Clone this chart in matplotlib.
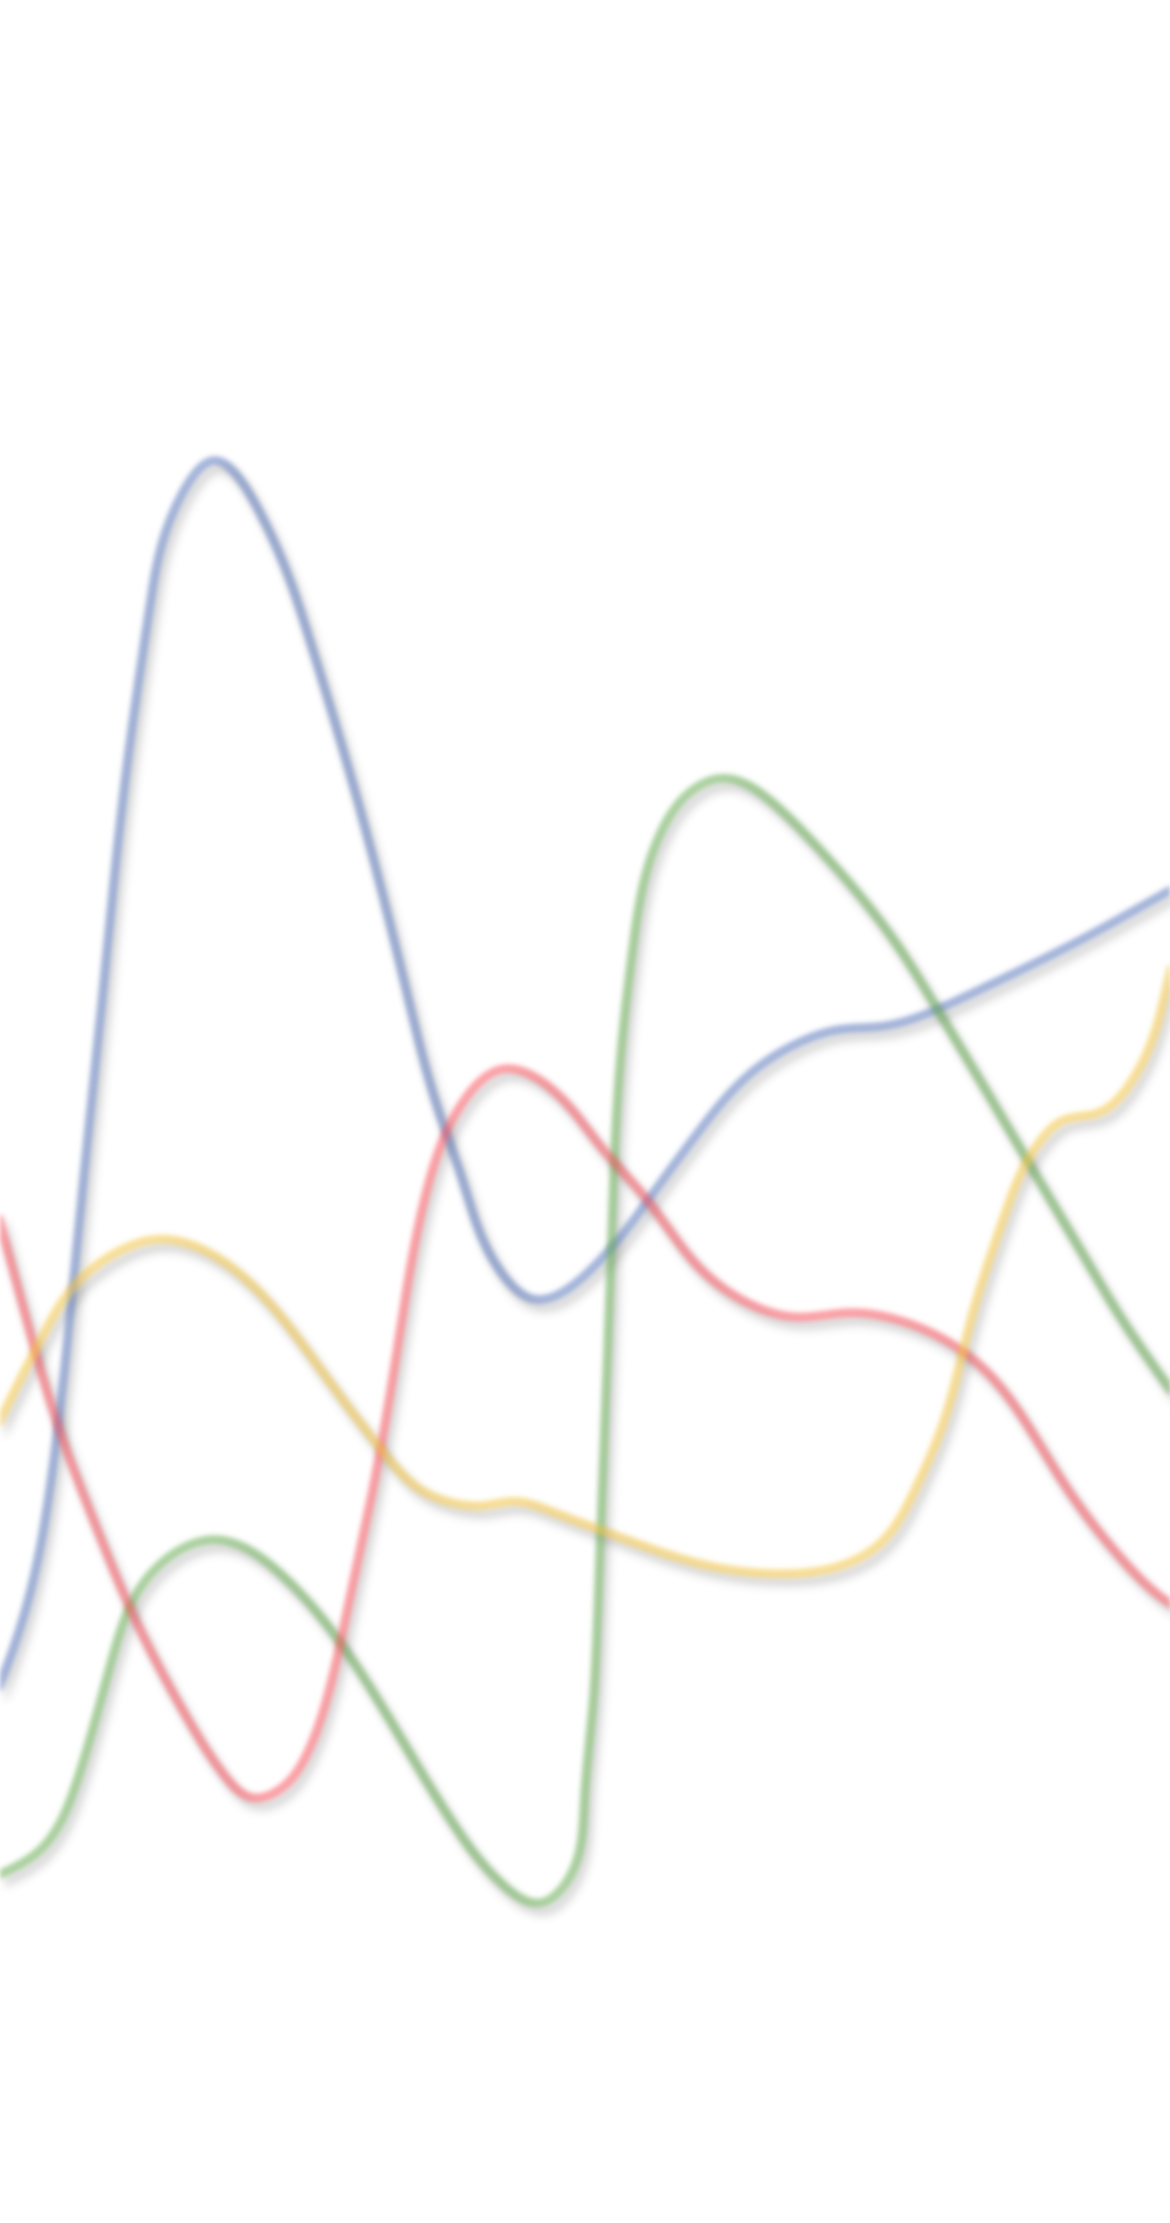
import numpy as np
import matplotlib
matplotlib.use("Agg")
import matplotlib.pyplot as plt

# series values (x across 0-825, y up from the bottom 0-1568)
blue_x = [-30, 0, 20, 38, 58, 72, 88, 106, 125, 150, 184, 216, 256, 286, 310, 324, 351,
          375, 423, 461, 492, 527, 562, 593, 621, 663, 691, 762, 825, 880]
blue_y = [312, 380, 440, 539, 728, 863, 1016, 1143, 1213, 1243, 1205, 1124, 989, 871, 782,
          742, 674, 652, 679, 727, 769, 809, 832, 842, 844, 857, 870, 905, 940, 970]

red_x = [-30, 0, 24, 40, 67, 92, 135, 158, 178, 200, 215, 230, 245, 262, 278, 292, 305,
         324, 355, 391, 423, 456, 492, 527, 562, 597, 633, 692, 746, 793, 825, 870]
red_y = [813, 706, 618, 565, 493, 433, 351, 316, 300, 308, 328, 368, 433, 513, 603, 688, 743,
         787, 814, 798, 760, 722, 675, 649, 639, 642, 637, 604, 528, 466, 437, 418]

green_x = [-30, 0, 27, 54, 81, 103, 151, 202, 243, 282, 322, 350, 382, 401, 412, 418, 422,
           425, 428, 431, 434, 439, 446, 455, 468, 485, 508, 548, 574, 609, 635, 661, 691,
           724, 762, 792, 825, 870]
green_y = [233, 246, 262, 311, 405, 454, 482, 454, 405, 343, 278, 243, 226, 243, 297, 365, 446,
           527, 602, 688, 768, 838, 898, 950, 985, 1008, 1019, 999, 973, 933, 898, 856, 806,
           750, 686, 636, 588, 523]

yellow_x = [-30, 0, 27, 54, 81, 113, 148, 189, 229, 270, 297, 324, 340, 362, 391, 423, 498,
            552, 587, 619, 646, 665, 684, 708, 722, 734, 750, 774, 797, 814, 825, 850]
yellow_y = [498, 566, 620, 663, 684, 694, 684, 650, 598, 544, 517, 507, 506, 509, 501, 489, 464,
            458, 462, 478, 519, 564, 635, 710, 745, 764, 778, 783, 804, 839, 882, 968]

series = [
    (blue_x, blue_y, "#5071bb"),
    (green_x, green_y, "#5eaa48"),
    (red_x, red_y, "#ff4a55"),
    (yellow_x, yellow_y, "#f7c437"),
]

W, H, DPI = 1170, 2223, 100
XMAX, YMAX = 825, 1568


def natural_spline(xs, ys, n=30):
    """Parametric natural cubic spline (chord length) through the points."""
    pts = np.column_stack([np.asarray(xs, float), np.asarray(ys, float)])
    t = np.concatenate([[0], np.cumsum(np.hypot(*np.diff(pts, axis=0).T))])
    h = np.diff(t)
    m = len(t)
    A = np.zeros((m, m))
    A[0, 0] = A[-1, -1] = 1.0
    for i in range(1, m - 1):
        A[i, i - 1] = h[i - 1]
        A[i, i] = 2 * (h[i - 1] + h[i])
        A[i, i + 1] = h[i]
    out = []
    for v in pts.T:
        rhs = np.zeros(m)
        rhs[1:-1] = 6 * ((v[2:] - v[1:-1]) / h[1:] - (v[1:-1] - v[:-2]) / h[:-1])
        M = np.linalg.solve(A, rhs)
        seg = []
        for i in range(m - 1):
            tt = np.linspace(t[i], t[i + 1], n, endpoint=(i == m - 2))
            a, b = t[i + 1] - tt, tt - t[i]
            seg.append(M[i] * a ** 3 / (6 * h[i]) + M[i + 1] * b ** 3 / (6 * h[i])
                       + (v[i] / h[i] - M[i] * h[i] / 6) * a
                       + (v[i + 1] / h[i] - M[i + 1] * h[i] / 6) * b)
        out.append(np.concatenate(seg))
    return out[0], out[1]


def blur(a, sigma):
    r = int(3 * sigma) + 1
    k = np.exp(-0.5 * (np.arange(-r, r + 1) / sigma) ** 2)
    k /= k.sum()
    for axis in (0, 1):
        p = np.pad(a, [(r, r) if ax == axis else (0, 0) for ax in (0, 1)])
        out = np.zeros_like(a)
        n = a.shape[axis]
        for i, w in enumerate(k):
            out += w * (p[i:i + n, :] if axis == 0 else p[:, i:i + n])
        a = out
    return a


class SoftFilter:
    """agg_filter: gaussian blur of the alpha, flat colour, optional offset."""

    def __init__(self, sigma, rgb, strength=1.0, dx=0, dy=0):
        self.sigma = sigma
        self.rgb = rgb
        self.strength = strength
        self.dx = dx
        self.dy = dy

    def __call__(self, im, dpi):
        pad = int(3 * self.sigma) + max(abs(self.dx), abs(self.dy)) + 2
        a = np.pad(im[:, :, 3], pad)
        a = blur(a, self.sigma)
        a = np.roll(a, self.dx, axis=1)
        a = np.roll(a, self.dy, axis=0)
        out = np.empty(a.shape + (4,))
        out[..., :3] = self.rgb
        out[..., 3] = np.clip(a * self.strength, 0, 1)
        return out, -pad, -pad


fig = plt.figure(figsize=(W / DPI, H / DPI), dpi=DPI, facecolor="white")
ax = fig.add_axes([0, 0, 1, 1])
ax.set_xlim(0, XMAX)
ax.set_ylim(0, YMAX)
ax.axis("off")

for xs, ys, col in series:
    cx, cy = natural_spline(xs, ys)
    rgb = matplotlib.colors.to_rgb(col)
    # soft drop shadow
    ax.plot(cx, cy, color="black", lw=6.5, zorder=1,
            agg_filter=SoftFilter(4.5, (0.3, 0.3, 0.3), strength=0.24, dx=5, dy=8))
    # blurred line
    ax.plot(cx, cy, color=col, alpha=0.5, lw=6.5, zorder=2,
            solid_capstyle="round", agg_filter=SoftFilter(2.4, rgb))

fig.savefig("out.png", dpi=DPI, facecolor="white")
